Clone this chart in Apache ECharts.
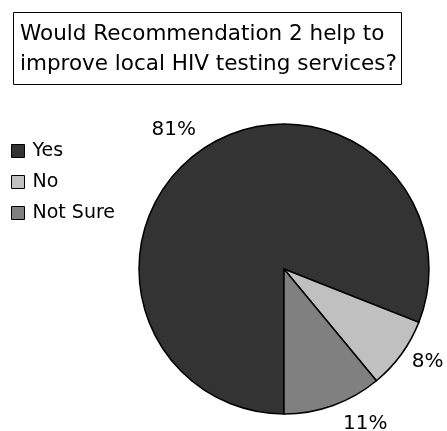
<!DOCTYPE html>
<html>
<head>
<meta charset="utf-8">
<script src="https://cdn.jsdelivr.net/npm/echarts@6/dist/echarts.min.js"></script>
<style>
html,body{margin:0;padding:0;background:#fff;}
#chart{width:447px;height:431px;}
</style>
</head>
<body>
<div id="chart"></div>
<script>
// Data
const categories = ['Yes', 'No', 'Not Sure'];
const percentValues = [81, 8, 11];
const titleLines = ['Would Recommendation 2 help to', 'improve local HIV testing services?'];

// Styling (kept separate from data)
const sliceColors = ['#333333', '#c0c0c0', '#808080'];
const labelLineLengths = [23, 13, 19];
const labelDistances = [-6.5, 0, 3.5];

const FONT = 'DejaVu Sans';

const pieData = categories.map((name, i) => ({
  name: name,
  value: percentValues[i],
  itemStyle: { color: sliceColors[i] },
  label: { distanceToLabelLine: labelDistances[i] },
  labelLine: { show: false, length: labelLineLengths[i], length2: 0 }
}));

const chart = echarts.init(document.getElementById('chart'), null, { renderer: 'canvas' });
chart.setOption({
  backgroundColor: '#ffffff',
  animation: false,
  title: {
    text: titleLines.join('\n'),
    left: 13,
    top: 12,
    padding: [7, 5, 6, 7],
    borderColor: '#000',
    borderWidth: 1,
    textStyle: {
      fontFamily: FONT,
      fontSize: 21.5,
      fontWeight: 'normal',
      lineHeight: 30,
      color: '#000'
    }
  },
  legend: {
    orient: 'vertical',
    left: 11,
    top: 141.5,
    padding: 0,
    itemWidth: 13,
    itemHeight: 13,
    itemGap: 12,
    icon: 'rect',
    data: categories,
    itemStyle: { borderColor: '#000', borderWidth: 1 },
    textStyle: {
      fontFamily: FONT,
      fontSize: 19,
      color: '#000',
      padding: [0, 0, 0, 3]
    }
  },
  series: [{
    type: 'pie',
    center: [284, 269],
    radius: 145,
    startAngle: 270,
    clockwise: true,
    avoidLabelOverlap: false,
    itemStyle: { borderColor: '#000', borderWidth: 1.5 },
    label: {
      show: true,
      position: 'outside',
      formatter: '{c}%',
      fontFamily: FONT,
      fontSize: 20,
      color: '#000'
    },
    emphasis: { disabled: true },
    data: pieData
  }]
});
</script>
</body>
</html>
